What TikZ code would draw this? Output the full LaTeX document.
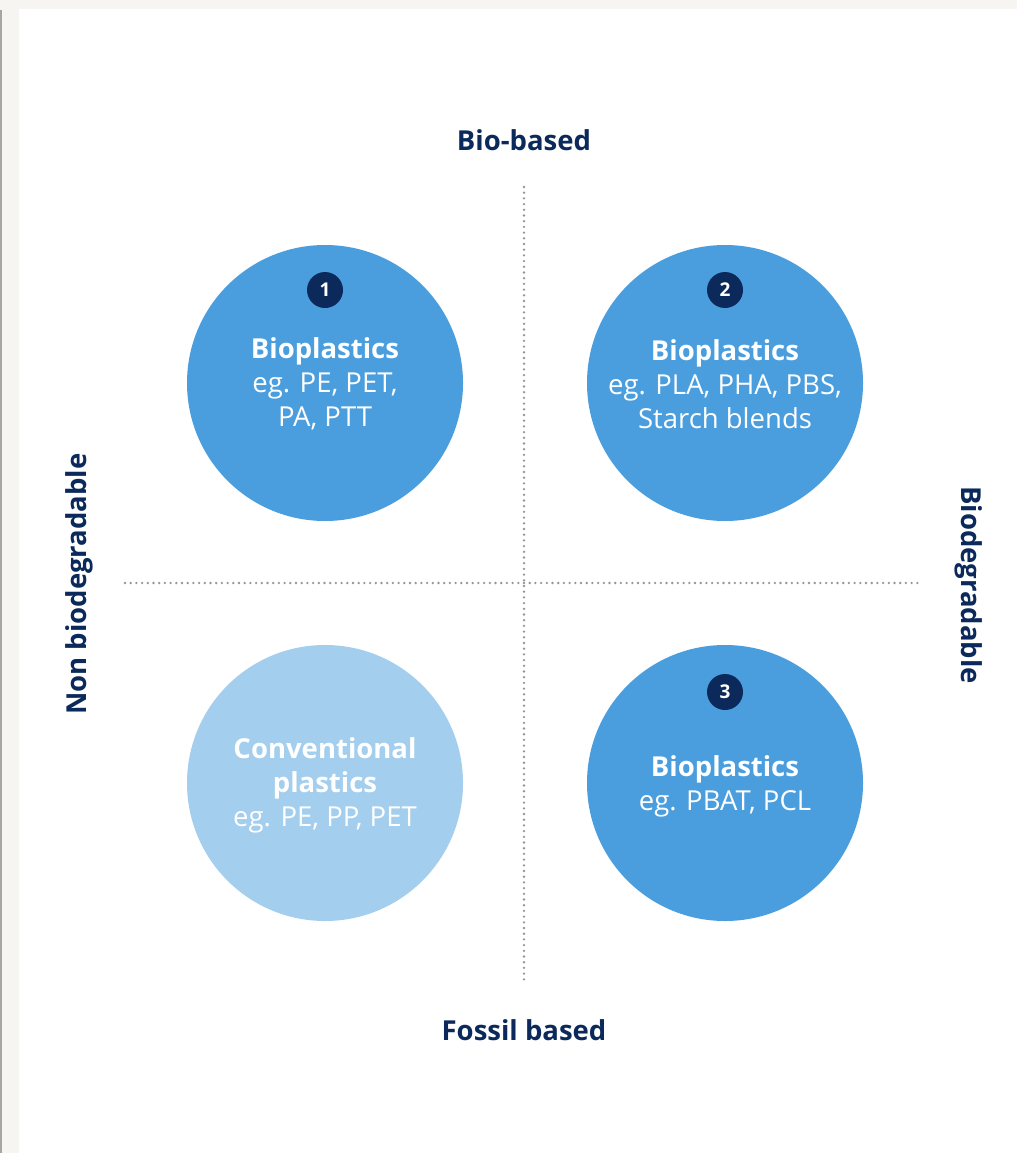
\documentclass[tikz,border=0pt]{standalone}
\usepackage{fontspec}
\setmainfont{Open Sans}
\definecolor{bgbeige}{HTML}{F6F5F1}
\definecolor{navy}{HTML}{0B2A5B}
\definecolor{bluedark}{HTML}{4A9EDE}
\definecolor{bluelight}{HTML}{A4CEEE}
\definecolor{dotgray}{HTML}{959595}
\definecolor{edgegray}{HTML}{A8A6A0}
\begin{document}
\begin{tikzpicture}[x=1pt,y=-1pt,
  bubble/.style={circle,minimum size=276pt,inner sep=0pt},
  bubbletext/.style={text=white,align=center,font=\fontsize{27.5}{34}\selectfont},
  badge/.style={circle,fill=navy,minimum size=36pt,inner sep=0pt,text=white,font=\bfseries\fontsize{19}{19}\selectfont},
  axislabel/.style={text=navy,font=\bfseries\fontsize{27.5}{30}\selectfont},
  divider/.style={dotgray,line width=2.6pt,dash pattern=on 0pt off 5.7pt,line cap=round}]
\useasboundingbox (0,0) rectangle (1017,1153);
\fill[bgbeige] (0,0) rectangle (1017,1153);
\fill[white] (19,9) rectangle (1017,1153);
\fill[edgegray] (0,10) rectangle (1.5,1153);
% dividers
\coordinate (vtop) at (524,187);
\coordinate (vbot) at (524,980);
\coordinate (hl) at (125,583);
\coordinate (hr) at (920,583);
\draw[divider] (vtop) -- (vbot);
\draw[divider] (hl) -- (hr);
% bubbles
\node[bubble,fill=bluedark] (b1) at (325,383) {};
\node[bubble,fill=bluedark] (b2) at (725,383) {};
\node[bubble,fill=bluelight] (b4) at (325,783) {};
\node[bubble,fill=bluedark] (b3) at (725,783) {};
\node[bubbletext] (t1) at (325,384) {\textbf{Bioplastics}\\eg. PE, PET,\\PA, PTT};
\node[bubbletext] (t2) at (725,384) {\textbf{Bioplastics}\\eg. PLA, PHA, PBS,\\Starch blends};
\node[bubbletext] (t4) at (325,785) {\textbf{Conventional}\\\textbf{plastics}\\eg. PE, PP, PET};
\node[bubbletext] (t3) at (725,786) {\textbf{Bioplastics}\\eg. PBAT, PCL};
\node[badge] (n1) at (325,290) {1};
\node[badge] (n2) at (725,290) {2};
\node[badge] (n3) at (725,692) {3};
% axis labels
\node[axislabel] (top) at (524,140) {Bio-based};
\node[axislabel] (bot) at (524,1030) {Fossil based};
\node[axislabel,rotate=90] (left) at (79,584) {Non biodegradable};
\node[axislabel,rotate=-90] (right) at (969,585) {Biodegradable};
\end{tikzpicture}
\end{document}
